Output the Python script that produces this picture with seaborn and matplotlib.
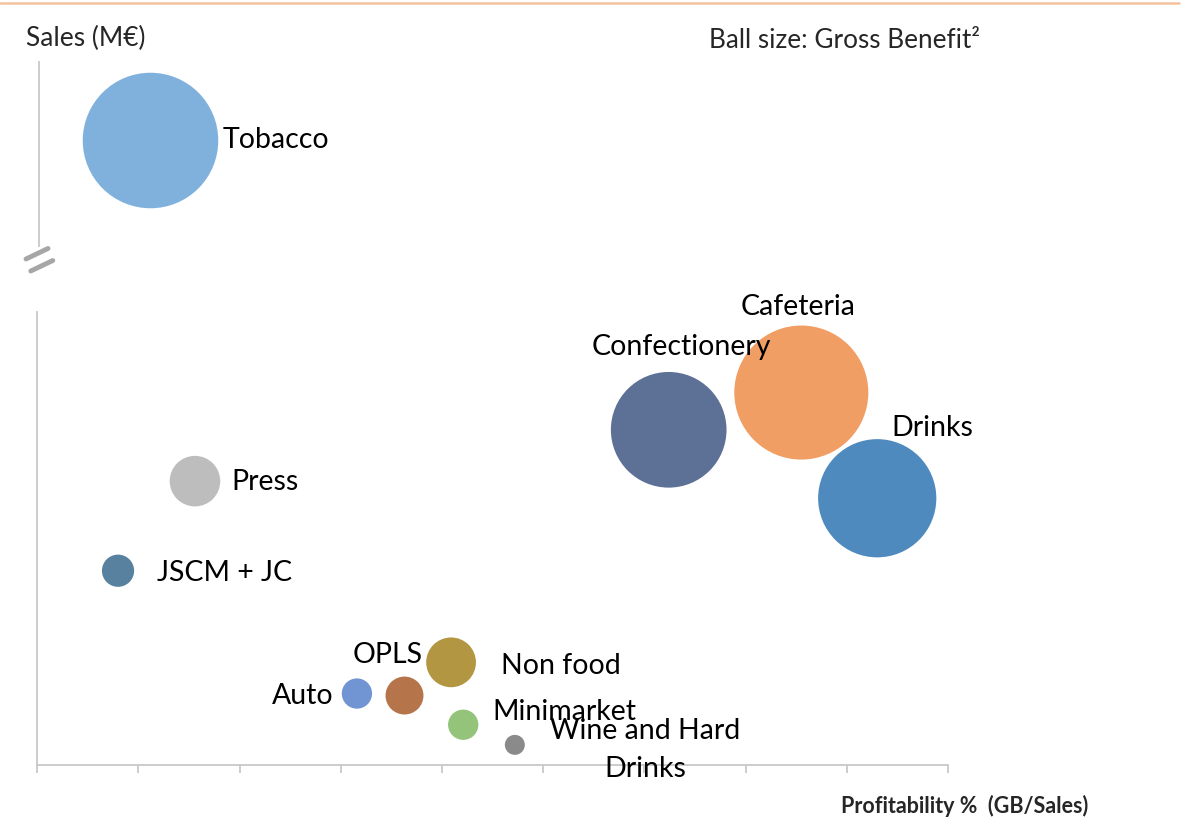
import numpy as np
import pandas as pd
import seaborn as sns
import matplotlib
matplotlib.use('Agg')
import matplotlib.pyplot as plt
from matplotlib.lines import Line2D

# data (x: profitability, y: sales, ball: gross benefit)
names = ['Tobacco', 'Confectionery', 'Cafeteria', 'Drinks', 'Press', 'JSCM + JC',
         'OPLS', 'Non food', 'Auto', 'Minimarket', 'Wine and Hard\nDrinks']
profitability = [1.10, 6.24, 7.55, 8.30, 1.56, 0.80, 3.63, 4.09, 3.16, 4.21, 4.72]
sales = [190.5, 33.3, 37.0, 26.5, 28.2, 19.3, 6.9, 10.2, 7.1, 4.0, 2.0]
gross_benefit = [46.0, 33.5, 45.0, 35.0, 6.4, 2.6, 3.6, 6.2, 2.3, 2.3, 1.0]
colors = ['#80B1DD', '#5D7096', '#F19E64', '#4F8ABE', '#BDBDBD', '#58819F',
          '#B5744A', '#B39641', '#7195D2', '#94C37A', '#8A8A8A']

# label offsets (points) from the ball centre and alignment
label_dx = [52, 9, -2, 40, 26, 28, -12, 36, -17, 21, 94]
label_dy = [1, 60, 62, 51, 0, -1, 30, -2, -1, 10, -3]
label_ha = ['left', 'center', 'center', 'center', 'left', 'left',
            'center', 'left', 'right', 'left', 'center']

df = pd.DataFrame({'name': names, 'profit': profitability, 'sales': sales,
                   'gb': gross_benefit})
palette = dict(zip(names, colors))

sns.set_style('white')
plt.rcParams['font.family'] = ['Lato', 'DejaVu Sans']

fig = plt.figure(figsize=(12.03, 8.29), dpi=100)
ax_lo = fig.add_axes([0.0308, 0.076, 0.7573, 0.5464])
ax_hi = fig.add_axes([0.0325, 0.702, 0.7573, 0.222])

split = 100
area_per_gb = 207.0
for ax, part in [(ax_lo, df[df.sales < split]), (ax_hi, df[df.sales >= split])]:
    sns.scatterplot(data=part, x='profit', y='sales', hue='name', palette=palette,
                    size='gb', sizes=(0, area_per_gb * 50), size_norm=(0, 50),
                    linewidth=0, alpha=1, legend=False, ax=ax, clip_on=False)
    ax.set_xlim(0, 9)
    ax.set_xlabel('')
    ax.set_ylabel('')
    ax.set_yticks([])
    for s in ax.spines.values():
        s.set_color('#C8C8C8')
        s.set_linewidth(1.3)
    ax.spines['top'].set_visible(False)
    ax.spines['right'].set_visible(False)
    for i in part.index:
        ax.annotate(names[i], (profitability[i], sales[i]),
                    xytext=(label_dx[i], label_dy[i]), textcoords='offset points',
                    ha=label_ha[i], va='center', fontsize=20.5, color='black',
                    multialignment='center', linespacing=1.6)

ax_lo.set_ylim(0, 45)
ax_lo.set_xticks(np.arange(0, 10))
ax_lo.set_xticklabels([])
ax_lo.tick_params(axis='x', bottom=True, length=6, width=1.3, color='#C8C8C8', direction='out')

ax_hi.set_ylim(180, 198.3)
ax_hi.set_xticks([])
ax_hi.spines['bottom'].set_visible(False)

# axis break marks
for y0 in [260, 272]:
    fig.add_artist(Line2D([(26 + (y0 - 260) * 0.4) / 1203, (48 + (y0 - 260) * 0.4) / 1203],
                          [1 - y0 / 829, 1 - (y0 - 10.5) / 829],
                          color='#A6A6A6', lw=3.5, solid_capstyle='round'))

# orange rule on top
fig.add_artist(Line2D([0, 0.98], [1 - 4 / 829, 1 - 4 / 829], color='#F5C29E', lw=1.8))

fig.text(26 / 1203, 1 - 38 / 829, 'Sales (M€)', fontsize=19, va='center', ha='left')
fig.text(709 / 1203, 1 - 40 / 829, 'Ball size: Gross Benefit²', fontsize=18.8,
         va='center', ha='left')
fig.text(1088 / 1203, 1 - 806 / 829, 'Profitability %  (GB/Sales)', fontsize=15.5,
         fontweight='bold', va='center', ha='right')

fig.savefig('out.png', dpi=100)
